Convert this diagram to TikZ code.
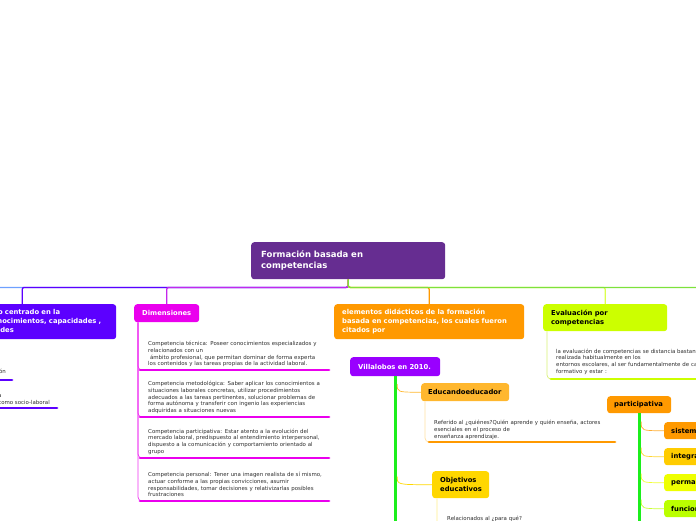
\documentclass[tikz,border=0pt]{standalone}
\usepackage{fontspec}
\setmainfont{DejaVu Sans}
\usetikzlibrary{calc}

\definecolor{rootcol}{RGB}{102,45,145}
\definecolor{violetcol}{RGB}{92,0,255}
\definecolor{dimcol}{RGB}{234,0,238}
\definecolor{dimline}{RGB}{196,40,236}
\definecolor{elemcol}{RGB}{255,153,0}
\definecolor{villacol}{RGB}{153,0,255}
\definecolor{educcol}{RGB}{255,183,46}
\definecolor{objcol}{RGB}{255,215,0}
\definecolor{evalcol}{RGB}{204,255,0}
\definecolor{integcol}{RGB}{255,204,0}
\definecolor{permacol}{RGB}{238,255,0}
\definecolor{funccol}{RGB}{187,255,0}
\definecolor{trunkcol}{RGB}{28,238,28}
\definecolor{leftcol}{RGB}{110,160,255}
\definecolor{rightcol}{RGB}{125,226,60}
\definecolor{notegray}{RGB}{45,45,45}

\begin{document}
\begin{tikzpicture}[x=1pt, y=-1pt,
    topic/.style={rounded corners=3pt, anchor=north west, align=left, inner xsep=8pt, inner ysep=0pt, text=white, font=\fontsize{6.8}{9}\selectfont\bfseries},
    note/.style={anchor=north west, align=left, inner sep=0pt, text=notegray, font=\fontsize{5.45}{6.8}\selectfont},
    limb/.style={line width=1.3pt, rounded corners=2pt},
    twig/.style={line width=0.7pt, rounded corners=4pt},
    trunk/.style={line width=3pt},
    ul/.style={line width=2.8pt, line cap=round}
]
\useasboundingbox (0,0) rectangle (696,520);
\clip (0,0) rectangle (696,520);

% main topics
\node (root) [topic, fill=rootcol, text width=174pt, minimum height=37pt, inner xsep=10pt, font=\fontsize{8.5}{11}\selectfont\bfseries] at (251,242) {Formación basada en\\competencias};
\node (modelo) [topic, fill=violetcol, text width=172pt, minimum height=35pt] at (-72,304) {Un nuevo modelo centrado en la\\formación en conocimientos, capacidades ,\\valores , y actitudes};
\node (dim) [topic, fill=dimcol, text width=49pt, minimum height=18pt] at (134,304) {Dimensiones};
\node (elem) [topic, fill=elemcol, text width=174pt, minimum height=35pt] at (334,304) {elementos didácticos de la formación\\basada en competencias, los cuales fueron\\citados por};
\node (eval) [topic, fill=evalcol, text=black, text width=108pt, minimum height=27pt] at (543,304) {Evaluación por\\competencias};

% subtopics
\node (villa) [topic, fill=villacol, text width=74pt, minimum height=19pt] at (350,357) {Villalobos en 2010.};
\node (educ) [topic, fill=educcol, text=black, inner xsep=7pt, text width=74pt, minimum height=18pt] at (421,383) {Educandoeducador};
\node (obj) [topic, fill=objcol, text=black, text width=41pt, minimum height=27pt] at (432,471) {Objetivos\\educativos};
\node (partic) [topic, fill=elemcol, text=black, inner xsep=7pt, text width=50pt, minimum height=17pt] at (607,396) {participativa};
\node (sist) [topic, fill=elemcol, text=black, inner xsep=7pt, text width=60pt, minimum height=17pt] at (664,422) {sistemática};
\node (integ) [topic, fill=integcol, text=black, inner xsep=7pt, text width=60pt, minimum height=17pt] at (664,448) {integral};
\node (perma) [topic, fill=permacol, text=black, inner xsep=7pt, text width=60pt, minimum height=17pt] at (664,474) {permanente};
\node (func) [topic, fill=funccol, text=black, inner xsep=7pt, text width=60pt, minimum height=17pt] at (664,500) {funcional};

% notes
\node (n1) [note, anchor=base east] at (6,373.5) {Capacitación};
\node (n2) [note, anchor=north east] at (50,393) {Una mirada\\al empleo como socio-laboral};
\node (t1) [note, text width=200pt] at (148,341) {Competencia técnica: Poseer conocimientos especializados y\\relacionados con un\\\ ámbito profesional, que permitan dominar de forma experta\\los contenidos y las tareas propias de la actividad laboral.};
\node (t2) [note, text width=200pt] at (148,381) {Competencia metodológica: Saber aplicar los conocimientos a\\situaciones laborales concretas, utilizar procedimientos\\adecuados a las tareas pertinentes, solucionar problemas de\\forma autónoma y transferir con ingenio las experiencias\\adquiridas a situaciones nuevas};
\node (t3) [note, text width=200pt] at (148,428.5) {Competencia participativa: Estar atento a la evolución del\\mercado laboral, predispuesto al entendimiento interpersonal,\\dispuesto a la comunicación y comportamiento orientado al\\grupo};
\node (t4) [note, text width=200pt] at (148,472) {Competencia personal: Tener una imagen realista de sí mismo,\\actuar conforme a las propias convicciones, asumir\\responsabilidades, tomar decisiones y relativizarlas posibles\\frustraciones};
\node (e1) [note, text width=200pt] at (434,420) {Referido al ¿quiénes?Quién aprende y quién enseña, actores\\esenciales en el proceso de\\enseñanza aprendizaje.};
\node (o1) [note, text width=200pt] at (447,516) {Relacionados al ¿para qué?};
\node (v1) [note, text width=200pt] at (556,348.5) {la evaluación de competencias se distancia bastante de la\\realizada habitualmente en los\\entornos escolares, al ser fundamentalmente de carácter\\formativo y estar :};

% underline ends
\coordinate (m1u) at (-60,380);
\coordinate (m2u) at (-60,408);
\coordinate (t1u) at (140,370);
\coordinate (t2u) at (140,417);
\coordinate (t3u) at (140,458);
\coordinate (t4u) at (140,501);
\coordinate (e1u) at (429,442);
\coordinate (o1u) at (442,534);
\coordinate (v1u) at (551,379);

% branches from the root
\draw[limb, leftcol] (root.south) -- ++(0,8) -- ++(-420,0);
\draw[limb, violetcol] (root.south) -- ++(0,8) -| (modelo.north);
\draw[limb, dimline] (root.south) -- ++(0,8) -| (dim.north);
\draw[limb, evalcol!70!white] (root.south) -- ++(0,8) -| (eval.north);
\draw[limb, elemcol] (root.south) -- ++(0,8) -| (elem.north);
\draw[limb, rightcol] (root.south) -- ++(0,8) -- ++(420,0);

% notes hanging from topics
\draw[twig, violetcol] ([xshift=4pt]modelo.south west) |- (m1u);
\draw[twig, violetcol] ([xshift=4pt]modelo.south west) |- (m2u);
\draw[ul, violetcol] (m1u) -- ++(72,0);
\draw[ul, violetcol] (m2u) -- ++(117,0);
\foreach \u in {t1u,t2u,t3u,t4u}{
  \draw[twig, dimcol!80] ([xshift=4pt]dim.south west) |- (\u);
  \draw[ul, dimcol] (\u) -- ++(189,0);
}
\draw[twig, educcol!45] ([xshift=4pt]educ.south west) |- (e1u);
\draw[ul, elemcol] (e1u) -- ++(186,0);
\draw[twig, objcol!45] ([xshift=5pt]obj.south west) |- (o1u);
\draw[twig, evalcol!80!gray!60] ([xshift=4pt]eval.south west) |- (v1u);
\draw[ul, evalcol] (v1u) -- ++(200,0);

% Villalobos and participativa trunks
\draw[trunk, trunkcol] (villa.south) -- ++(0,160);
\draw[trunk, trunkcol] (partic.south) -- ++(0,120);
\foreach \c/\col in {educ/educcol, obj/objcol}
  \draw[twig, \col] ($(\c.west -| villa.south)+(2,-8)$) .. controls ($(\c.west -| villa.south)+(2,0)$) .. (\c.west);
\foreach \c/\col in {sist/elemcol, integ/integcol, perma/permacol, func/funccol}
  \draw[twig, \col!80] ($(\c.west -| partic.south)+(2,-9)$) .. controls ($(\c.west -| partic.south)+(2,0)$) .. (\c.west);
\end{tikzpicture}
\end{document}
